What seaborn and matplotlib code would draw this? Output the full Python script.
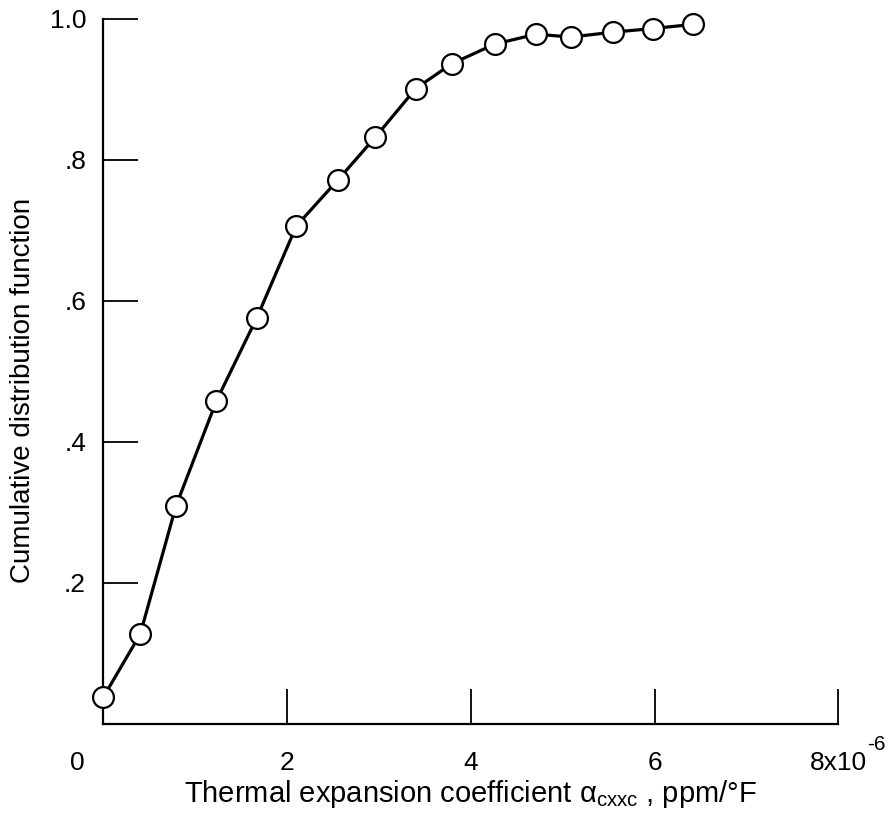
import matplotlib
matplotlib.use("Agg")
import matplotlib.pyplot as plt
import seaborn as sns
import pandas as pd

# Data
alpha_cxxc = [0.00, 0.40, 0.79, 1.23, 1.67, 2.10, 2.55, 2.96, 3.40, 3.79,
              4.26, 4.71, 5.09, 5.55, 5.98, 6.42]
cdf = [0.038, 0.127, 0.309, 0.458, 0.576, 0.706, 0.771, 0.832, 0.901, 0.936,
       0.964, 0.978, 0.974, 0.981, 0.986, 0.992]
x_ticks = [2, 4, 6, 8]
x_tick_labels = ["2", "4", "6", "8x10"]
y_ticks = [0.2, 0.4, 0.6, 0.8, 1.0]
y_tick_labels = [".2", ".4", ".6", ".8", "1.0"]

df = pd.DataFrame({"x": alpha_cxxc, "y": cdf})

sns.set_style("ticks")
plt.rcParams["font.family"] = ["Liberation Sans", "DejaVu Sans"]
plt.rcParams["mathtext.fontset"] = "custom"
plt.rcParams["mathtext.rm"] = "Liberation Sans"
plt.rcParams["mathtext.it"] = "Liberation Sans"
plt.rcParams["mathtext.default"] = "regular"
plt.rcParams["axes.labelcolor"] = "black"
plt.rcParams["text.color"] = "black"

fig = plt.figure(figsize=(8.95, 8.24), dpi=100)
ax = fig.add_axes([0.1156, 0.1217, 0.8211, 0.8556])

sns.lineplot(data=df, x="x", y="y", ax=ax, color="black", linewidth=2.3,
             marker="o", markersize=15, markerfacecolor="white",
             markeredgecolor="black", markeredgewidth=1.6, sort=False,
             errorbar=None, clip_on=False, zorder=5)

ax.set_xlim(0, 8)
ax.set_ylim(0, 1.0)
ax.set_xticks(x_ticks)
ax.set_xticklabels(x_tick_labels)
ax.set_yticks(y_ticks)
ax.set_yticklabels(y_tick_labels)

for s in ["top", "right"]:
    ax.spines[s].set_visible(False)
for s in ["left", "bottom"]:
    ax.spines[s].set_linewidth(1.6)
    ax.spines[s].set_color("black")

ax.tick_params(axis="x", direction="in", length=25, width=1.3, pad=20,
               labelsize=19, colors="black")
ax.tick_params(axis="y", direction="in", length=25, width=1.3, pad=12.5,
               labelsize=19, colors="black")

ax.annotate("0", xy=(0, 0), xycoords="data", xytext=(-19, -20),
            textcoords="offset points", ha="center", va="top", fontsize=19)
ax.annotate("-6", xy=(8, 0), xycoords="data", xytext=(21, -15),
            textcoords="offset points", ha="left", va="center", fontsize=15)

ax.set_xlabel(r"Thermal expansion coefficient $α_{cxxc}$ , ppm/°F",
              fontsize=21, labelpad=2)
ax.set_ylabel("Cumulative distribution function", fontsize=20)
ax.yaxis.set_label_coords(-0.092, 0.473)

fig.savefig("out.png", dpi=100, facecolor="white")
